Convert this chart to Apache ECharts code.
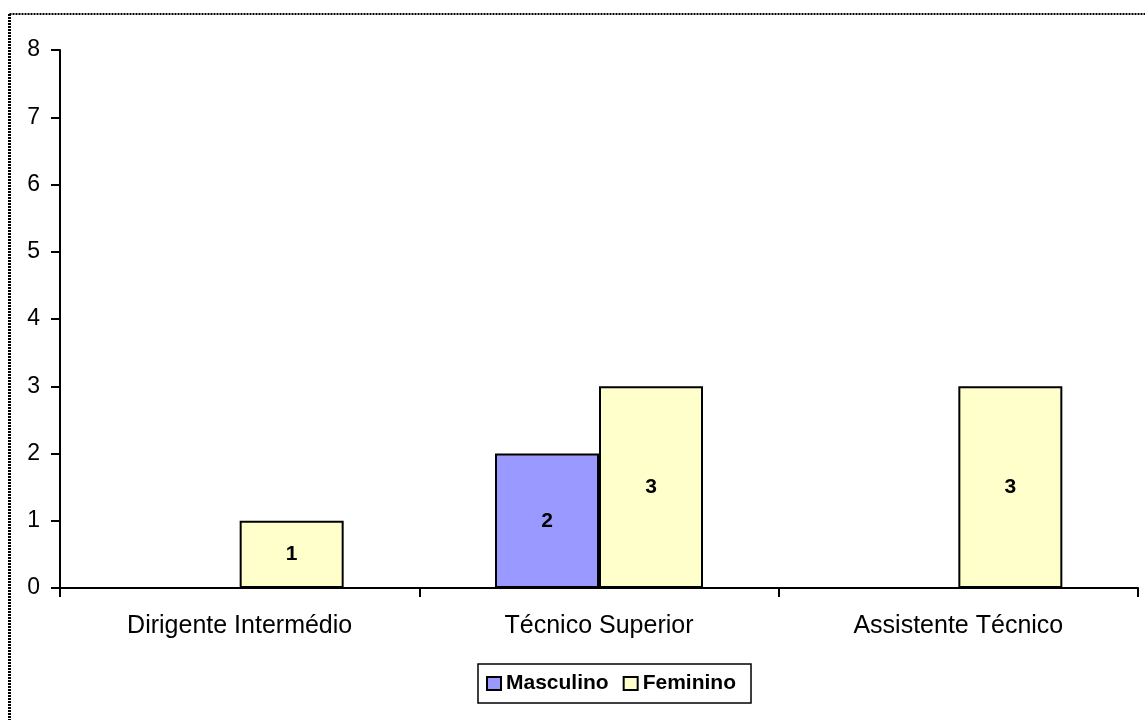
<!DOCTYPE html>
<html>
<head>
<meta charset="utf-8">
<script src="https://cdn.jsdelivr.net/npm/echarts@6/dist/echarts.min.js"></script>
<style>
  html, body { margin: 0; padding: 0; background: #fff; }
  #chart { width: 1145px; height: 720px; }
</style>
</head>
<body>
<div id="chart"></div>
<script>
// categorias e valores
var categorias = ['Dirigente Intermédio', 'Técnico Superior', 'Assistente Técnico'];
var masculino = ['-', 2, '-'];
var feminino = [1, 3, 3];
var yTicks = [0, 8, 1]; // min, max, intervalo

var fonte = 'Arial, "Liberation Sans", sans-serif';
var myChart = echarts.init(document.getElementById('chart'));

var option = {
  backgroundColor: '#fff',
  animation: false,
  grid: { left: 60, right: 7, top: 50, bottom: 132 },
  graphic: [
    // moldura pontilhada
    { type: 'line', shape: { x1: 9.5, y1: 14, x2: 1200, y2: 14 },
      style: { stroke: '#000', lineWidth: 2, lineDash: [2, 1] } },
    { type: 'line', shape: { x1: 9.5, y1: 14, x2: 9.5, y2: 800 },
      style: { stroke: '#000', lineWidth: 3, lineDash: [2, 1] } }
  ],
  legend: {
    left: 478,
    top: 664,
    padding: [9, 15, 9, 8],
    borderColor: '#000',
    borderWidth: 1.5,
    itemWidth: 14,
    itemHeight: 13,
    itemGap: 14,
    icon: 'rect',
    textStyle: { fontFamily: fonte, fontSize: 21, fontWeight: 'bold', color: '#000', padding: [0, 0, 0, 0] },
    data: ['Masculino', 'Feminino']
  },
  xAxis: {
    type: 'category',
    data: categorias,
    axisLine: { lineStyle: { color: '#000', width: 2 } },
    axisTick: { show: true, length: 9, lineStyle: { color: '#000', width: 2 } },
    axisLabel: { fontFamily: fonte, fontSize: 25, color: '#000', margin: 26 }
  },
  yAxis: {
    type: 'value',
    min: yTicks[0],
    max: yTicks[1],
    interval: yTicks[2],
    splitLine: { show: false },
    axisLine: { show: true, lineStyle: { color: '#000', width: 2 } },
    axisTick: { show: true, length: 9, lineStyle: { color: '#000', width: 2 } },
    axisLabel: { fontFamily: fonte, fontSize: 23, color: '#000', margin: 20 }
  },
  series: [
    {
      name: 'Masculino',
      type: 'bar',
      barWidth: 104,
      barGap: '0%',
      data: masculino,
      itemStyle: { color: '#9999FF', borderColor: '#000', borderWidth: 2 },
      label: { show: true, position: 'inside', fontFamily: fonte, fontSize: 21, fontWeight: 'bold', color: '#000' }
    },
    {
      name: 'Feminino',
      type: 'bar',
      barWidth: 104,
      barGap: '0%',
      data: feminino,
      itemStyle: { color: '#FFFFCC', borderColor: '#000', borderWidth: 2 },
      label: { show: true, position: 'inside', fontFamily: fonte, fontSize: 21, fontWeight: 'bold', color: '#000' }
    }
  ]
};
myChart.setOption(option);
</script>
</body>
</html>
